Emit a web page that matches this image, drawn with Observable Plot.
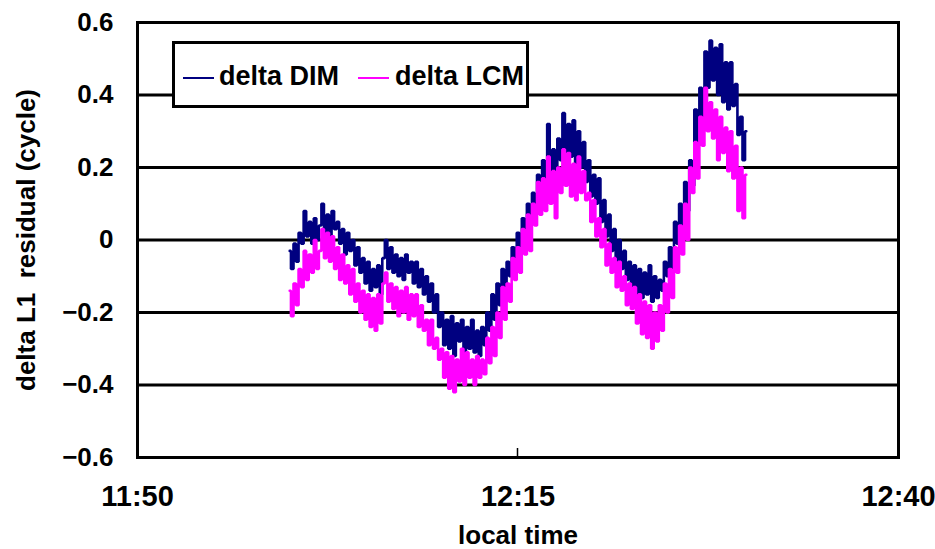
<!DOCTYPE html>
<html>
<head>
<meta charset="utf-8">
<script src="https://cdn.jsdelivr.net/npm/d3@7"></script>
<script src="https://cdn.jsdelivr.net/npm/@observablehq/plot@0.6"></script>
<style>
  html, body { margin: 0; padding: 0; background: #fff; }
  #wrap { position: relative; width: 935px; height: 549px; font-family: "Liberation Sans", Arial, sans-serif; font-weight: bold; }
  #legend { position: absolute; left: 172px; top: 41px; width: 357px; height: 67px; box-sizing: border-box;
            border: 3px solid #000; background: #fff; }
  #legend .sw { position: absolute; top: 33px; height: 2px; width: 31px; }
  #legend .lab { position: absolute; top: 14px; font-size: 27px; line-height: 36px; color: #000; white-space: nowrap; }
</style>
</head>
<body>
<div id="wrap"></div>
<script>
// Series names and colours
const seriesNames = ["delta DIM", "delta LCM"];
const seriesColors = ["#000080", "#ff00ff"];

// Sampling: first sample at 12:00, one sample every 10 seconds
const sampleStart = "12:00";
const sampleStepSeconds = 10;

// delta DIM residual (cycle)
const deltaDIM = [
  -0.03, -0.08, -0.01, -0.06, 0.02, -0.01, 0.08, 0.01, 0.05, -0.01,
  0.06, 0.00, 0.04, 0.10, 0.02, 0.07, 0.01, 0.08, 0.03, 0.05,
  -0.01, 0.03, -0.04, 0.02, -0.03, 0.00, -0.07, -0.02, -0.09, -0.05,
  -0.12, -0.06, -0.14, -0.08, -0.13, -0.07, -0.15, -0.05, 0.00, -0.08,
  -0.02, -0.09, -0.04, -0.10, -0.05, -0.11, -0.04, -0.09, -0.06, -0.12,
  -0.06, -0.13, -0.08, -0.15, -0.10, -0.17, -0.12, -0.20, -0.15, -0.24,
  -0.20, -0.29, -0.22, -0.30, -0.21, -0.32, -0.23, -0.28, -0.22, -0.31,
  -0.24, -0.30, -0.22, -0.31, -0.25, -0.32, -0.24, -0.29, -0.20, -0.25,
  -0.15, -0.22, -0.12, -0.18, -0.08, -0.14, -0.06, -0.10, -0.02, -0.06,
  0.02, -0.03, 0.06, 0.02, 0.10, 0.04, 0.13, 0.08, 0.18, 0.11,
  0.22, 0.13, 0.32, 0.16, 0.25, 0.18, 0.28, 0.22, 0.35, 0.24,
  0.32, 0.23, 0.33, 0.21, 0.30, 0.20, 0.27, 0.16, 0.22, 0.12,
  0.18, 0.10, 0.17, 0.05, 0.11, 0.01, 0.07, -0.03, 0.03, -0.06,
  0.00, -0.08, -0.03, -0.11, -0.06, -0.14, -0.07, -0.15, -0.08, -0.16,
  -0.09, -0.15, -0.07, -0.17, -0.10, -0.16, -0.11, -0.14, -0.06, -0.10,
  -0.02, -0.08, 0.05, -0.01, 0.10, 0.02, 0.16, 0.08, 0.22, 0.15,
  0.36, 0.26, 0.42, 0.32, 0.52, 0.42, 0.55, 0.44, 0.53, 0.40,
  0.54, 0.38, 0.49, 0.36, 0.49, 0.37, 0.43, 0.29, 0.34, 0.22,
  0.30
];

// delta LCM residual (cycle)
const deltaLCM = [
  -0.14, -0.21, -0.12, -0.18, -0.08, -0.13, -0.03, -0.11, -0.04, -0.09,
  0.00, -0.08, -0.03, 0.03, -0.05, 0.02, -0.06, 0.01, -0.08, -0.02,
  -0.11, -0.04, -0.12, -0.07, -0.15, -0.08, -0.17, -0.12, -0.20, -0.14,
  -0.22, -0.15, -0.24, -0.16, -0.25, -0.15, -0.23, -0.12, -0.09, -0.17,
  -0.12, -0.19, -0.13, -0.21, -0.14, -0.20, -0.13, -0.22, -0.15, -0.21,
  -0.15, -0.24, -0.18, -0.25, -0.22, -0.29, -0.22, -0.30, -0.27, -0.33,
  -0.30, -0.38, -0.31, -0.41, -0.32, -0.42, -0.33, -0.39, -0.30, -0.40,
  -0.31, -0.38, -0.33, -0.40, -0.32, -0.38, -0.33, -0.37, -0.27, -0.34,
  -0.24, -0.32, -0.20, -0.27, -0.13, -0.22, -0.12, -0.17, -0.05, -0.11,
  -0.02, -0.09, 0.03, -0.04, 0.07, -0.03, 0.10, 0.04, 0.16, 0.07,
  0.17, 0.08, 0.23, 0.10, 0.19, 0.06, 0.20, 0.13, 0.25, 0.15,
  0.24, 0.12, 0.21, 0.11, 0.23, 0.13, 0.19, 0.11, 0.13, 0.05,
  0.11, 0.01, 0.06, -0.02, 0.03, -0.07, -0.01, -0.09, -0.05, -0.13,
  -0.06, -0.14, -0.10, -0.18, -0.12, -0.19, -0.13, -0.23, -0.15, -0.26,
  -0.17, -0.27, -0.18, -0.30, -0.20, -0.28, -0.18, -0.25, -0.12, -0.20,
  -0.08, -0.16, -0.02, -0.09, 0.04, -0.04, 0.10, 0.00, 0.20, 0.13,
  0.27, 0.17, 0.34, 0.26, 0.42, 0.30, 0.38, 0.28, 0.36, 0.22,
  0.34, 0.24, 0.31, 0.19, 0.30, 0.17, 0.26, 0.08, 0.20, 0.06,
  0.18
];

// Axes
const xTickLabels = ["11:50", "12:15", "12:40"];
const xInnerTickLabel = "12:15";
const yTicks = [-0.6, -0.4, -0.2, 0, 0.2, 0.4, 0.6];
const yTickLabels = ["\u22120.6", "\u22120.4", "\u22120.2", "0", "0.2", "0.4", "0.6"];
const xTitle = "local time";
const yTitle = "delta L1  residual (cycle)";

const parseHM = d3.utcParse("%H:%M");
const xTicks = xTickLabels.map(parseHM);
const t0 = parseHM(sampleStart);
const timeAt = i => new Date(+t0 + i * sampleStepSeconds * 1000);

const rows = [];
[deltaDIM, deltaLCM].forEach((vals, s) => {
  vals.forEach((v, i) => rows.push({series: seriesNames[s], time: timeAt(i), value: v}));
});

const fmtY = d => yTickLabels[yTicks.indexOf(d)];
const fmtX = d3.utcFormat("%H:%M");

// Short inward tick on the bottom edge at the middle label
const innerTick = (index, scales, values, dims) => {
  const x = scales.x(parseHM(xInnerTickLabel));
  const yb = dims.height - dims.marginBottom;
  const g = d3.create("svg:line")
    .attr("x1", x).attr("x2", x)
    .attr("y1", yb).attr("y2", yb - 9)
    .attr("stroke", "#000").attr("stroke-width", 1.5);
  return g.node();
};

const chart = Plot.plot({
  width: 935,
  height: 549,
  marginLeft: 137,
  marginRight: 37,
  marginTop: 22,
  marginBottom: 92,
  style: {fontFamily: "'Liberation Sans', Arial, sans-serif", fontWeight: "bold", background: "#fff", color: "#000"},
  x: {type: "utc", domain: [xTicks[0], xTicks[2]]},
  y: {domain: [-0.6, 0.6]},
  color: {domain: seriesNames, range: seriesColors},
  marks: [
    Plot.gridY(yTicks, {stroke: "#000", strokeOpacity: 1, strokeWidth: 3}),
    Plot.lineY(rows, {x: "time", y: "value", z: "series", stroke: "series", curve: "step", strokeWidth: 2.6, strokeLinejoin: "miter"}),
    Plot.frame({stroke: "#000", strokeWidth: 3}),
    Plot.axisY(yTicks, {tickSize: 0, tickPadding: 24, fontSize: 26, tickFormat: fmtY, label: null, fill: "#000"}),
    Plot.axisX(xTicks, {tickSize: 0, tickPadding: 28, fontSize: 29, tickFormat: fmtX, label: null, fill: "#000", style: "letter-spacing:-1.5px"}),
    innerTick,
    Plot.text([xTitle], {frameAnchor: "bottom", dy: 78, lineAnchor: "middle", fontSize: 26, fontWeight: "bold", fill: "#000", text: d => d}),
    Plot.text([yTitle], {frameAnchor: "left", dx: -111, rotate: -90, textAnchor: "middle", lineAnchor: "middle", fontSize: 26, fontWeight: "bold", fill: "#000", text: d => d})
  ]
});

const wrap = document.getElementById("wrap");
wrap.appendChild(chart);

// Legend box drawn over the upper-left of the plot area
const legend = document.createElement("div");
legend.id = "legend";
legend.innerHTML =
  `<div class="sw" style="left:8px;background:${seriesColors[0]}"></div>` +
  `<div class="lab" style="left:44px">${seriesNames[0]}</div>` +
  `<div class="sw" style="left:183px;background:${seriesColors[1]}"></div>` +
  `<div class="lab" style="left:220px">${seriesNames[1]}</div>`;
wrap.appendChild(legend);
</script>
</body>
</html>
